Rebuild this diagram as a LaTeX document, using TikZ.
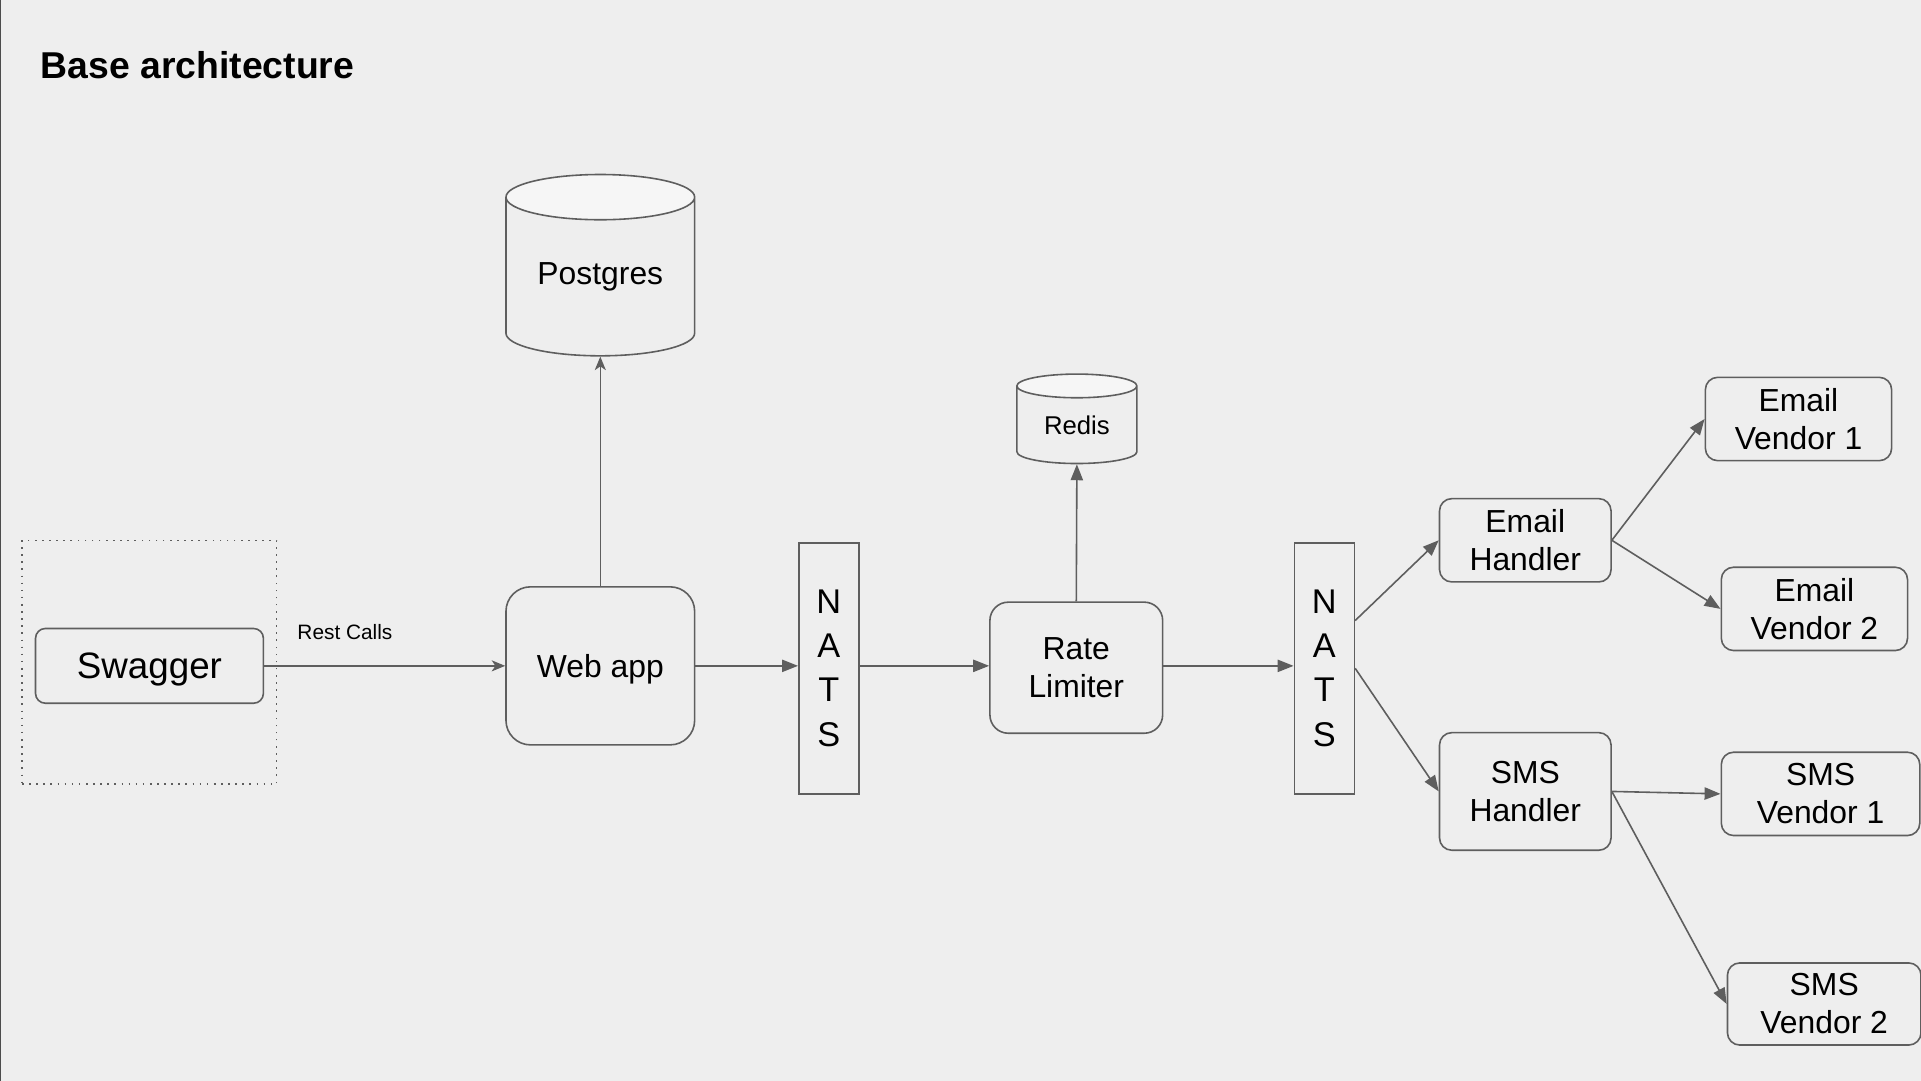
\documentclass[tikz,border=0pt]{standalone}
\usepackage{fontspec}
\setmainfont{Liberation Sans}
\usetikzlibrary{shapes.geometric,arrows.meta}
\definecolor{bggray}{RGB}{238,238,238}
\definecolor{linegray}{RGB}{94,94,94}
\definecolor{topgray}{RGB}{246,246,246}
\tikzset{
  box/.style={draw=linegray, line width=1.3pt, fill=bggray, rounded corners=#1, inner sep=0pt, align=center, font=\fontsize{26}{31}\selectfont},
  box/.default=10pt,
  db/.style={draw=linegray, line width=1.3pt, cylinder, shape border rotate=90, cylinder uses custom fill, cylinder body fill=bggray, cylinder end fill=topgray, inner sep=0pt},
  nats/.style={draw=linegray, line width=1.3pt, inner sep=0pt, minimum width=49pt, minimum height=205pt, align=center, font=\fontsize{28}{36}\selectfont},
  flow/.style={draw=linegray, line width=1.3pt, -{Triangle[length=13pt,width=10pt]}},
  call/.style={draw=linegray, line width=1.3pt, -{Stealth[length=11pt,width=9pt,inset=3pt]}},
}
\begin{document}
\begin{tikzpicture}[x=1pt, y=-1pt]
    \fill[bggray] (0,0) rectangle (1568,882);
    \useasboundingbox (0,0) rectangle (1568,882);
    \draw[black!70, line width=0.8pt] (0.4,0) -- (0.4,882);
    \node[anchor=west, inner sep=0pt, font=\bfseries\fontsize{30.5}{36}\selectfont] (title) at (33,53) {Base architecture};

    % nodes: swagger, web app, postgres
    \node[draw=linegray, line width=1pt, dash pattern=on 1.3pt off 4.5pt, minimum width=208pt, minimum height=199pt] (zone) at (122,540.5) {};
    \node[box=8pt, minimum width=186pt, minimum height=61pt, text depth=0pt, font=\fontsize{30}{36}\selectfont] (swagger) at (122,543.5) {Swagger};
    \node[box=20pt, minimum width=154pt, minimum height=129pt, text depth=0pt] (web) at (490,543.5) {Web app};
    \node[db, aspect=0.36, minimum width=154pt, minimum height=148pt, font=\fontsize{26}{31}\selectfont] (pg) at (490,226) {Postgres};
    % nodes: nats, rate limiter, redis
    \node[nats] (nats1) at (676.5,545.5) {N\\A\\T\\S};
    \node[box=15pt, minimum width=141pt, minimum height=107pt] (limiter) at (878.5,545) {Rate\\Limiter};
    \node[db, aspect=0.36, minimum width=98pt, minimum height=73pt, font=\fontsize{21}{25}\selectfont] (redis) at (879,347) {Redis};
    \node[nats] (nats2) at (1081,545.5) {N\\A\\T\\S};
    % nodes: handlers and vendors
    \node[box, minimum width=140pt, minimum height=68pt] (emailh) at (1245,441) {Email\\Handler};
    \node[box, minimum width=140pt, minimum height=96pt] (smsh) at (1245,646) {SMS\\Handler};
    \node[box, minimum width=152pt, minimum height=68pt] (ev1) at (1468,342) {Email\\Vendor 1};
    \node[box, minimum width=152pt, minimum height=68pt] (ev2) at (1481,497) {Email\\Vendor 2};
    \node[box, minimum width=162pt, minimum height=68pt] (sv1) at (1486,648) {SMS\\Vendor 1};
    \node[box, minimum width=158pt, minimum height=67pt] (sv2) at (1489,819.5) {SMS\\Vendor 2};

    % edges: swagger-web, web-postgres
    \draw[call] (swagger.east) to node[pos=0.335, above=17pt, font=\fontsize{17}{20}\selectfont] {Rest Calls} (web.west);
    \draw[call] (web.north) to (pg.south);
    % edges: web-nats-limiter-nats, limiter-redis
    \draw[flow] (web.east) to (nats1.west |- web.east);
    \draw[flow] (nats1.east |- web.east) to (limiter.west |- web.east);
    \draw[flow] (limiter.north) to (redis.south);
    \draw[flow] (limiter.east |- web.east) to (nats2.west |- web.east);
    % edges: nats-handlers, handlers-vendors
    \draw[flow] ([yshift=39pt]nats2.east) to (emailh.west);
    \draw[flow] (nats2.east) to (smsh.west);
    \draw[flow] (emailh.east) to (ev1.west);
    \draw[flow] (emailh.east) to (ev2.west);
    \draw[flow] (smsh.east) to (sv1.west);
    \draw[flow] (smsh.east) to (sv2.west);
\end{tikzpicture}
\end{document}
